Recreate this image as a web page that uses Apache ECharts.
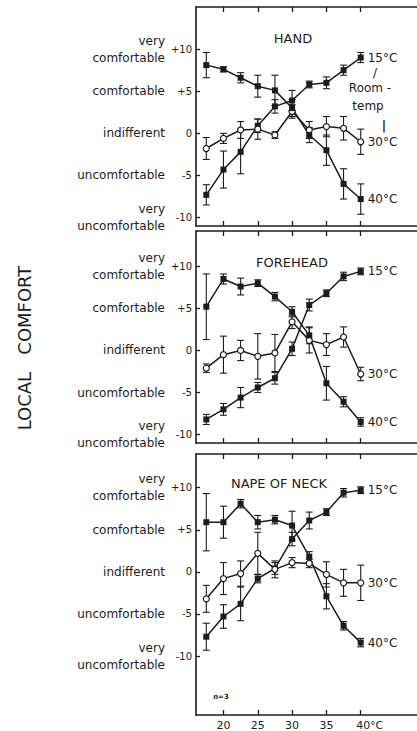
<!DOCTYPE html>
<html><head><meta charset="utf-8">
<script src="https://cdn.jsdelivr.net/npm/echarts@6/dist/echarts.min.js"></script>
<style>html,body{margin:0;padding:0;background:#fff}#c{width:417px;height:731px}</style>
</head><body><div id="c"></div>
<script>
// ---- data ----
const temps = [17.5, 20, 22.5, 25, 27.5, 30, 32.5, 35, 37.5, 40];
const xTicks = [20, 25, 30, 35, 40];
const yTicks = [-10, -5, 0, 5, 10];
const comfortLabels = {10: 'very\ncomfortable', 5: 'comfortable', 0: 'indifferent', '-5': 'uncomfortable', '-10': 'very\nuncomfortable'};
const panelNames = ['HAND', 'FOREHEAD', 'NAPE OF NECK'];
const seriesNames = ['15°C', '30°C', '40°C'];

const hand15 = [-7.3, -4.3, -2.2, 0.9, 3.2, 3.9, 5.8, 6.0, 7.5, 9.0];
const hand15Err = [1.2, 2.2, 2.6, 0.8, 0.8, 1.2, 0.4, 0.7, 0.6, 0.6];
const hand30 = [-1.8, -0.6, 0.4, 0.5, -0.2, 2.6, 0.4, 0.8, 0.6, -1.0];
const hand30Err = [1.3, 0.6, 1.0, 1.2, 0.4, 0.8, 1.0, 1.2, 1.4, 1.5];
const hand40 = [8.1, 7.6, 6.6, 5.6, 5.1, 3.0, -0.2, -2.0, -6.0, -7.8];
const hand40Err = [1.5, 0.3, 0.6, 1.3, 1.8, 1.0, 0.9, 1.8, 1.8, 1.8];

const fore15 = [-8.2, -7.0, -5.6, -4.4, -3.3, 0.2, 5.4, 6.8, 8.8, 9.4];
const fore15Err = [0.6, 0.7, 1.2, 0.6, 0.7, 0.8, 0.7, 0.4, 0.5, 0.4];
const fore30 = [-2.1, -0.5, 0.0, -0.7, -0.3, 3.4, 1.2, 0.7, 1.6, -2.8];
const fore30Err = [0.5, 2.2, 1.2, 2.7, 2.2, 0.8, 1.5, 1.3, 1.2, 0.8];
const fore40 = [5.2, 8.5, 7.6, 8.0, 6.4, 4.6, 1.8, -3.9, -6.1, -8.5];
const fore40Err = [3.9, 0.6, 1.0, 0.4, 0.5, 0.6, 1.0, 2.0, 0.6, 0.5];

const neck15 = [-7.7, -5.3, -3.8, -0.8, 0.4, 3.9, 6.1, 7.1, 9.4, 9.7];
const neck15Err = [1.6, 1.4, 2.0, 0.5, 0.7, 0.8, 1.0, 0.4, 0.5, 0.4];
const neck30 = [-3.2, -0.8, -0.2, 2.2, 0.3, 1.1, 1.0, -0.3, -1.3, -1.3];
const neck30Err = [1.6, 1.9, 1.5, 2.5, 1.0, 0.6, 0.5, 1.5, 1.6, 2.1];
const neck40 = [5.9, 5.9, 8.1, 5.9, 6.2, 5.5, 1.8, -2.9, -6.4, -8.4];
const neck40Err = [3.4, 1.9, 0.5, 0.8, 0.5, 1.7, 0.6, 1.5, 0.5, 0.5];

const panels = [
  {vals: [hand15, hand30, hand40], errs: [hand15Err, hand30Err, hand40Err]},
  {vals: [fore15, fore30, fore40], errs: [fore15Err, fore30Err, fore40Err]},
  {vals: [neck15, neck30, neck40], errs: [neck15Err, neck30Err, neck40Err]}
];

// ---- layout / style ----
const INK = '#1c1c1c';
const FONT = 'DejaVu Sans';
const grids = [
  {left: 196, right: 0, top: 7, height: 219},
  {left: 196, right: 0, top: 231, height: 212},
  {left: 196, right: 0, top: 454, height: 261}
];
const yRanges = [[-11, 15], [-11, 14.2], [-17, 14]];
const xMin = 16, xMax = 48.2;

const xAxis = [], yAxis = [], series = [];
grids.forEach((g, i) => {
  const last = i === 2;
  xAxis.push({
    type: 'value', gridIndex: i, position: 'bottom', min: xMin, max: xMax,
    axisLine: {show: true, onZero: false, lineStyle: {color: INK, width: 1.6}},
    axisTick: {show: true, inside: true, length: 5, customValues: xTicks, lineStyle: {color: INK, width: 1.3}},
    axisLabel: {show: last, customValues: xTicks, margin: 5, fontFamily: FONT, fontSize: 11, color: INK,
      formatter: v => v === 40 ? '{u|40°C}' : String(v),
      rich: {u: {padding: [0, 0, 0, 18], fontFamily: FONT, fontSize: 11, color: INK}}},
    splitLine: {show: false}
  });
  xAxis.push({
    type: 'value', gridIndex: i, position: 'top', min: xMin, max: xMax,
    axisLine: {show: true, onZero: false, lineStyle: {color: INK, width: 1.6}},
    axisTick: {show: true, inside: true, length: 5, customValues: xTicks, lineStyle: {color: INK, width: 1.3}},
    axisLabel: {show: false}, splitLine: {show: false}
  });
  yAxis.push({
    type: 'value', gridIndex: i, position: 'left', min: yRanges[i][0], max: yRanges[i][1],
    axisLine: {show: true, onZero: false, lineStyle: {color: INK, width: 1.6}},
    axisTick: {show: true, inside: true, length: 4, customValues: yTicks, lineStyle: {color: INK, width: 1.3}},
    axisLabel: {customValues: yTicks, margin: 4, fontFamily: FONT, fontSize: 10, color: INK,
      formatter: v => v > 0 ? '+' + v : String(v)},
    splitLine: {show: false}
  });
  yAxis.push({
    type: 'value', gridIndex: i, position: 'left', offset: 28, min: yRanges[i][0], max: yRanges[i][1],
    axisLine: {show: false, onZero: false}, axisTick: {show: false}, splitLine: {show: false},
    axisLabel: {customValues: yTicks, margin: 3, fontFamily: FONT, fontSize: 12, lineHeight: 17, color: INK,
      formatter: v => comfortLabels[v] || ''}
  });

  const p = panels[i];
  p.vals.forEach((vals, s) => {
    const open = s === 1;
    series.push({
      type: 'custom', xAxisIndex: 2 * i, yAxisIndex: 2 * i, z: 1, silent: true,
      data: temps.map((t, k) => [t, vals[k] - p.errs[s][k], vals[k] + p.errs[s][k]]),
      encode: {x: 0, y: [1, 2]},
      renderItem: (params, api) => {
        const x = api.value(0);
        const a = api.coord([x, api.value(1)]), b = api.coord([x, api.value(2)]);
        const w = 3.5, st = {stroke: INK, lineWidth: 1.1};
        return {type: 'group', children: [
          {type: 'line', shape: {x1: a[0], y1: a[1], x2: b[0], y2: b[1]}, style: st},
          {type: 'line', shape: {x1: a[0] - w, y1: a[1], x2: a[0] + w, y2: a[1]}, style: st},
          {type: 'line', shape: {x1: b[0] - w, y1: b[1], x2: b[0] + w, y2: b[1]}, style: st}
        ]};
      }
    });
    series.push({
      type: 'line', name: seriesNames[s], xAxisIndex: 2 * i, yAxisIndex: 2 * i, z: 3,
      data: temps.map((t, k) => [t, vals[k]]),
      symbol: open ? 'circle' : 'rect', symbolSize: 6,
      lineStyle: {color: INK, width: 1.5},
      itemStyle: open ? {color: '#fff', borderColor: INK, borderWidth: 1.2} : {color: INK},
      endLabel: {show: true, formatter: seriesNames[s], distance: 7, fontFamily: FONT, fontSize: 12, color: INK},
      animation: false
    });
  });
});

const txt = (text, x, y, size, extra) => Object.assign({
  type: 'text', x, y, silent: true,
  style: Object.assign({text, fontFamily: FONT, fontSize: size, fill: INK, align: 'center', verticalAlign: 'middle'}, extra || {})
});
const graphic = [
  txt(panelNames[0], 293, 38, 13),
  txt(panelNames[1], 292, 262, 13),
  txt(panelNames[2], 279, 483, 13),
  txt('/', 375, 73, 12),
  txt('Room -', 370, 88, 12),
  txt('temp', 368, 106, 12),
  txt('|', 384, 126, 12, {fontWeight: 'bold'}),
  txt('n=3', 221, 697, 7, {fontWeight: 'bold'}),
  Object.assign(txt('LOCAL   COMFORT', 24, 348, 18), {rotation: Math.PI / 2})
];

const chart = echarts.init(document.getElementById('c'), null, {renderer: 'svg'});
chart.setOption({
  animation: false, backgroundColor: '#fff',
  textStyle: {fontFamily: FONT},
  grid: grids, xAxis, yAxis, series, graphic
});
</script></body></html>
